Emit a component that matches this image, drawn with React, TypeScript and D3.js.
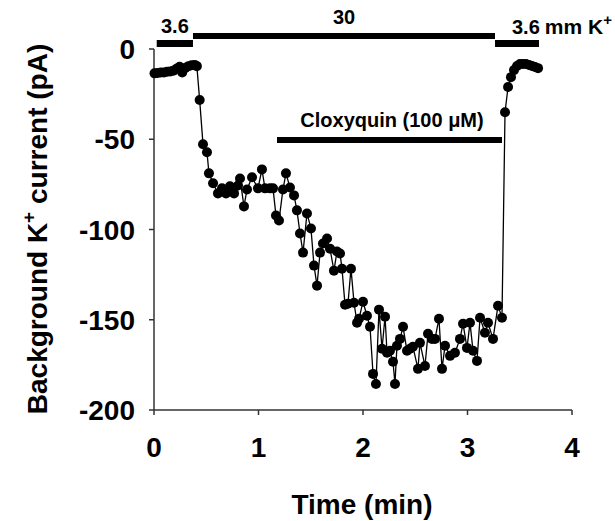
import React from 'react';
import * as d3 from 'd3';

// time (min) and background K+ current (pA)
const times = [
  0.005, 0.035, 0.065, 0.095, 0.125, 0.155, 0.185, 0.215, 0.245, 0.27, 0.3, 0.33, 0.36, 0.39, 0.41,
  0.437, 0.469, 0.507, 0.526, 0.565, 0.612, 0.651, 0.689, 0.727, 0.766, 0.804, 0.823, 0.861, 0.89,
  0.938, 0.995, 1.033, 1.062, 1.11, 1.139, 1.167, 1.196, 1.234, 1.263, 1.301, 1.34, 1.368, 1.397,
  1.426, 1.464, 1.502, 1.531, 1.56, 1.589, 1.617, 1.656, 1.684, 1.722, 1.751, 1.78, 1.799, 1.828,
  1.856, 1.885, 1.914, 1.943, 1.962, 2.0, 2.038, 2.067, 2.096, 2.124, 2.153, 2.182, 2.211, 2.23,
  2.258, 2.287, 2.306, 2.325, 2.354, 2.383, 2.421, 2.45, 2.478, 2.526, 2.545, 2.593, 2.622, 2.66,
  2.689, 2.727, 2.756, 2.785, 2.833, 2.88, 2.928, 2.957, 2.995, 3.024, 3.053, 3.091, 3.12, 3.167,
  3.196, 3.244, 3.292, 3.33, 3.359, 3.388, 3.416, 3.445, 3.474, 3.502, 3.531, 3.56, 3.589, 3.617,
  3.646, 3.675,
];
const current = [
  -13.5, -13.3, -13, -13, -12.6, -12.4, -12, -11, -9.8, -13, -10.5, -9.5, -9, -8.8, -9.5,
  -28.3, -52.8, -57.2, -68.9, -74.4, -80, -77.2, -80, -76.1, -80, -75.6, -71.7, -87.2, -77.8,
  -71.1, -77.2, -66.7, -77.2, -77.2, -77.2, -92.2, -95, -77.8, -68.9, -76.7, -81.1, -89.4, -102.2,
  -112.8, -91.1, -99.4, -120, -131.1, -112.8, -107.8, -105, -110.6, -122.8, -112.2, -113.3, -121.7, -141.7,
  -141.1, -121.7, -140.6, -151.7, -149.4, -140, -147.8, -153.9, -180, -185.6, -144.4, -166.1, -148.3, -168.3,
  -167.2, -173.3, -185.6, -164.4, -160.6, -153.9, -167.2, -166.1, -165, -177.2, -162.8, -175.6, -157.8, -160.6,
  -160.6, -149.4, -177.2, -164.4, -170, -168.3, -160.6, -152.2, -165.6, -151.7, -167.2, -172.8, -148.9, -157.2,
  -151.7, -160.6, -142.2, -148.9, -35, -21.1, -15.6, -11.7, -9.4, -8.3, -8.3, -8.3, -8.9, -9.4,
  -10, -10.6,
];

const xTicks = [0, 1, 2, 3, 4];
const yTicks = [0, -50, -100, -150, -200];

// perfusion bars: [start, end] in minutes
const kBarsLow = [[0.026, 0.373], [3.263, 3.684]];
const kBarHigh = [0.373, 3.263];
const drugBar = [1.177, 3.33];

const W = 615;
const H = 521;
const FONT = '"Liberation Sans", Arial, sans-serif';

export default function App() {
  const x = d3.scaleLinear().domain([0, 4]).range([154, 572]);
  const y = d3.scaleLinear().domain([-200, 0]).range([410, 49]);

  const pts = times.map((t, i) => [t, current[i]] as [number, number]);
  const line = d3.line<[number, number]>().x(d => x(d[0])).y(d => y(d[1]));

  return (
    <svg width={W} height={H} style={{ position: 'absolute', left: 0, top: 0, background: '#fff' }}
      fontFamily={FONT} fontWeight="bold">
      {/* axes */}
      <g stroke="#333" strokeWidth={1.5} fill="none">
        <line x1={x(0)} x2={x(0)} y1={y(0)} y2={y(-200)} />
        <line x1={x(0)} x2={x(4)} y1={y(-200)} y2={y(-200)} />
        {yTicks.map(v => <line key={'yt' + v} x1={x(0) - 5} x2={x(0)} y1={y(v)} y2={y(v)} />)}
        {xTicks.map(v => <line key={'xt' + v} x1={x(v)} x2={x(v)} y1={y(-200)} y2={y(-200) + 5} />)}
      </g>
      {yTicks.map(v => (
        <text key={'yl' + v} x={135} y={y(v)} dy="0.36em" textAnchor="end" fontSize={28}>{v}</text>
      ))}
      {xTicks.map(v => (
        <text key={'xl' + v} x={x(v)} y={457} textAnchor="middle" fontSize={28}>{v}</text>
      ))}
      <text x={362} y={514} textAnchor="middle" fontSize={28}>Time (min)</text>
      <text transform="translate(47,229) rotate(-90)" textAnchor="middle" fontSize={28}>
        Background K<tspan fontSize={19} dy={-12}>+</tspan><tspan dy={12}> current (pA)</tspan>
      </text>

      {/* solution bars */}
      {kBarsLow.map((b, i) => (
        <rect key={'kb' + i} x={x(b[0])} width={x(b[1]) - x(b[0])} y={40} height={7} fill="#000" />
      ))}
      <rect x={x(kBarHigh[0])} width={x(kBarHigh[1]) - x(kBarHigh[0])} y={33} height={6} fill="#000" />
      <rect x={x(drugBar[0])} width={x(drugBar[1]) - x(drugBar[0])} y={137} height={6} fill="#000" />
      <text x={161} y={33} fontSize={20}>3.6</text>
      <text x={344} y={24} textAnchor="middle" fontSize={20}>30</text>
      <text x={512} y={34} fontSize={20}>3.6<tspan dx={5} fontSize={21}>mm K</tspan><tspan fontSize={15} dy={-9}>+</tspan></text>
      <text x={392} y={127} textAnchor="middle" fontSize={20}>Cloxyquin (100 μM)</text>

      {/* trace */}
      <path d={line(pts) || ''} fill="none" stroke="#000" strokeWidth={1.3} />
      {pts.map((p, i) => (
        <circle key={'p' + i} cx={x(p[0])} cy={y(p[1])} r={5} fill="#000" />
      ))}
    </svg>
  );
}
